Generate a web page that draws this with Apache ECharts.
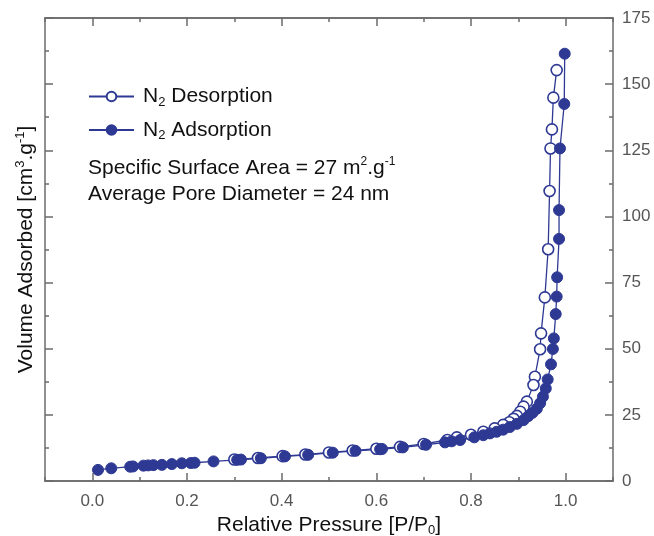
<!DOCTYPE html>
<html>
<head>
<meta charset="utf-8">
<script src="https://cdn.jsdelivr.net/npm/echarts@6/dist/echarts.min.js"></script>
<style>
  html, body { margin: 0; padding: 0; background: #fff; }
  #chart { width: 654px; height: 536px; }
</style>
</head>
<body>
<div id="chart"></div>
<script>
// tick labels
var xTicks = [0.0, 0.2, 0.4, 0.6, 0.8, 1.0]
var yTicks = [0, 25, 50, 75, 100, 125, 150, 175]

// N2 adsorption branch [P/P0, volume]
var adsorption = [
  [0.012, 4.2], [0.040, 4.8], [0.080, 5.4], [0.086, 5.5], [0.108, 5.8],
  [0.118, 5.9], [0.129, 6.0], [0.147, 6.1], [0.168, 6.4], [0.189, 6.7],
  [0.208, 6.8], [0.216, 6.9], [0.256, 7.4], [0.306, 8.0], [0.314, 8.1],
  [0.356, 8.6], [0.407, 9.3], [0.456, 9.9], [0.508, 10.7], [0.556, 11.4],
  [0.608, 12.0], [0.612, 12.1], [0.656, 12.7], [0.705, 13.7], [0.745, 14.6],
  [0.759, 15.0], [0.777, 15.5], [0.807, 16.5], [0.826, 17.3], [0.840, 18.0],
  [0.854, 18.6], [0.868, 19.4], [0.882, 20.4], [0.897, 21.6], [0.911, 23.0],
  [0.921, 24.5], [0.930, 25.8], [0.939, 27.3], [0.946, 29.4], [0.952, 31.9],
  [0.958, 35.0], [0.962, 38.4], [0.969, 44.1], [0.973, 49.9], [0.975, 53.9],
  [0.979, 63.1], [0.981, 69.7], [0.982, 77.0], [0.986, 91.5], [0.986, 102.4],
  [0.988, 125.7], [0.997, 142.5], [0.998, 161.5]
]

// N2 desorption branch [P/P0, volume]
var desorption = [
  [0.981, 155.3], [0.974, 144.9], [0.971, 132.9], [0.968, 125.7], [0.966, 109.6],
  [0.963, 87.6], [0.956, 69.4], [0.948, 55.8], [0.946, 49.8], [0.935, 39.4],
  [0.932, 36.3], [0.918, 30.0], [0.911, 28.1], [0.904, 26.2], [0.897, 24.6],
  [0.890, 23.5], [0.881, 22.2], [0.868, 21.2], [0.850, 19.9], [0.826, 18.6],
  [0.800, 17.5], [0.770, 16.5], [0.750, 15.5], [0.700, 14.0], [0.650, 12.9],
  [0.600, 12.2], [0.550, 11.5], [0.500, 10.8], [0.450, 10.0], [0.402, 9.4],
  [0.350, 8.7], [0.300, 8.1]
]

var blue = '#2e3994'
var axisColor = '#6b6b6b'
var font = 'Liberation Sans, Arial, sans-serif'

function xAxisDef(position, major) {
  return {
    type: 'value',
    position: position,
    min: -0.1,
    max: 1.1,
    interval: 0.1,
    axisLine: { show: true, onZero: false, lineStyle: { color: axisColor, width: 1.5 } },
    axisTick: major
      ? { show: true, inside: true, length: 8, customValues: xTicks, lineStyle: { color: axisColor, width: 1.5 } }
      : { show: true, inside: true, length: 4, lineStyle: { color: axisColor, width: 1.5 } },
    axisLabel: (major && position === 'bottom')
      ? { show: true, customValues: xTicks, margin: 12, color: '#555', fontSize: 17, fontFamily: font,
          formatter: function (v) { return v.toFixed(1) } }
      : { show: false },
    splitLine: { show: false }
  }
}

function yAxisDef(position) {
  return {
    type: 'value',
    position: position,
    min: 0,
    max: 175,
    interval: 25,
    axisLine: { show: true, onZero: false, lineStyle: { color: axisColor, width: 1.5 } },
    axisTick: { show: true, inside: true, length: 8, lineStyle: { color: axisColor, width: 1.5 } },
    minorTick: { show: true, splitNumber: 2, length: 4, lineStyle: { color: axisColor, width: 1.5 } },
    axisLabel: position === 'right'
      ? { show: true, margin: 9, color: '#555', fontSize: 17, fontFamily: font }
      : { show: false },
    splitLine: { show: false },
    minorSplitLine: { show: false }
  }
}

var chart = echarts.init(document.getElementById('chart'))

var xAxes = [xAxisDef('bottom', true), xAxisDef('bottom', false), xAxisDef('top', true), xAxisDef('top', false)]
xAxes[0].name = '{t|Relative Pressure [P/P}{sub|0}{t|]}'
xAxes[0].nameLocation = 'middle'
xAxes[0].nameGap = 30
xAxes[0].nameTextStyle = {
  rich: {
    t: { fontSize: 21, fontFamily: font, color: '#111', lineHeight: 24 },
    sub: { fontSize: 13, fontFamily: font, color: '#111', lineHeight: 13, verticalAlign: 'bottom' }
  }
}

var yAxes = [yAxisDef('left'), yAxisDef('right')]
yAxes[0].name = '{t|Volume Adsorbed [cm}{sup|3}{t|.g}{sup|-1}{t|]}'
yAxes[0].nameLocation = 'middle'
yAxes[0].nameGap = 7
yAxes[0].nameTextStyle = {
  rich: {
    t: { fontSize: 21, fontFamily: font, color: '#111', lineHeight: 24 },
    sup: { fontSize: 13, fontFamily: font, color: '#111', lineHeight: 13, verticalAlign: 'top' }
  }
}

var option = {
  backgroundColor: '#fff',
  animation: false,
  grid: { left: 45, right: 41, top: 18, bottom: 55, outerBoundsMode: 'none' },
  xAxis: xAxes,
  yAxis: yAxes,
  legend: {
    orient: 'vertical',
    left: 88,
    top: 86,
    padding: 0,
    itemWidth: 45,
    itemHeight: 12,
    itemGap: 11,
    data: ['Desorption', 'Adsorption'],
    formatter: function (name) { return '{g|}{t|N}{sub|2}{t| ' + name + '}' },
    textStyle: {
      rich: {
        g: { width: 4 },
        t: { fontSize: 21, fontFamily: font, color: '#111', lineHeight: 24 },
        sub: { fontSize: 13, fontFamily: font, color: '#111', lineHeight: 12, verticalAlign: 'bottom' }
      }
    }
  },
  graphic: [
    {
      type: 'text',
      left: 88,
      top: 156,
      style: {
        text: '{t|Specific Surface Area = 27 m}{sup|2}{t|.g}{sup|-1}',
        rich: {
          t: { fontSize: 21, fontFamily: font, fill: '#111', lineHeight: 24 },
          sup: { fontSize: 12, fontFamily: font, fill: '#111', lineHeight: 12, verticalAlign: 'top' }
        }
      }
    },
    {
      type: 'text',
      left: 88,
      top: 182,
      style: {
        text: 'Average Pore Diameter = 24 nm',
        fontSize: 21,
        lineHeight: 24,
        fontFamily: font,
        fill: '#111'
      }
    }
  ],
  series: [
    {
      name: 'Desorption',
      type: 'line',
      xAxisIndex: 0,
      yAxisIndex: 0,
      data: desorption,
      symbol: 'circle',
      symbolSize: 11,
      lineStyle: { color: blue, width: 1.3 },
      itemStyle: { color: '#fff', borderColor: blue, borderWidth: 1.6 }
    },
    {
      name: 'Adsorption',
      type: 'line',
      xAxisIndex: 0,
      yAxisIndex: 0,
      data: adsorption,
      symbol: 'circle',
      symbolSize: 11,
      lineStyle: { color: blue, width: 1.3 },
      itemStyle: { color: blue, borderColor: blue, borderWidth: 1 }
    }
  ]
}

chart.setOption(option)
</script>
</body>
</html>
